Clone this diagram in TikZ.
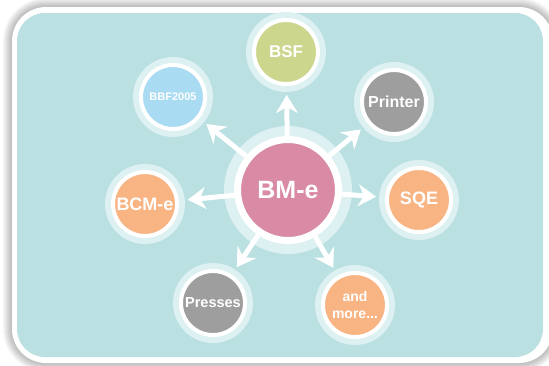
\documentclass[tikz,border=0pt]{standalone}
\usepackage{fontspec}
\setmainfont{Liberation Sans}
\usetikzlibrary{arrows.meta}
\definecolor{panel}{HTML}{BAE0E2}
\definecolor{halo}{HTML}{DDF0F2}
\definecolor{bmpink}{HTML}{D98BA5}
\definecolor{bsfgreen}{HTML}{CCD68C}
\definecolor{prgray}{HTML}{9D9E9D}
\definecolor{sqeorange}{HTML}{F8B482}
\definecolor{bbfblue}{HTML}{A9DBF2}
\tikzstyle{hub}=[circle,fill=bmpink,draw=white,line width=7pt,minimum size=101pt,inner sep=0pt,text=white,font=\bfseries\fontsize{25}{26}\selectfont,preaction={draw=halo,line width=27pt}]
\tikzstyle{sat}=[circle,draw=white,line width=4pt,minimum size=64pt,inner sep=0pt,text=white,align=center,preaction={draw=halo,line width=16pt}]
\tikzstyle{spoke}=[draw=white,line width=5pt,-{Stealth[length=18pt,width=22pt,inset=6pt]},shorten >=9pt]

\begin{document}
\begin{tikzpicture}[x=1pt,y=-1pt]
    \useasboundingbox (0,0) rectangle (549,365);
    % cadre
    \foreach \i [evaluate=\i as \r using 34+\i] in {1,...,9}
        \fill[black,opacity=0.03,rounded corners=\r pt] (12-\i,7-\i) rectangle (553+\i,363+\i);
    \fill[white,rounded corners=34pt] (12,7) rectangle (553,363);
    \fill[panel,rounded corners=28pt] (17,13) rectangle (543,357);
    % noeuds
    \node[hub] (bme) at (288,190) {BM-e};
    \foreach \pos/\name/\col/\sz/\txt in {{(286,52)/bsf/bsfgreen/17/BSF}, {(394,102)/printer/prgray/16/Printer}, {(419,200)/sqe/sqeorange/18/SQE}, {(355,305)/more/sqeorange/14/{and\\more...}}, {(213,303)/presses/prgray/14.5/Presses}, {(145,204)/bcme/sqeorange/18/BCM-e}, {(173,97)/bbf/bbfblue/11/BBF2005}}
        \node[sat,fill=\col,font=\bfseries\fontsize{\sz}{17}\selectfont] (\name) at \pos {\txt};
    % fleches
    \foreach \dest in {bsf,printer,sqe,more,presses,bcme,bbf}
        \path[spoke] (bme) -- (\dest);
\end{tikzpicture}
\end{document}
